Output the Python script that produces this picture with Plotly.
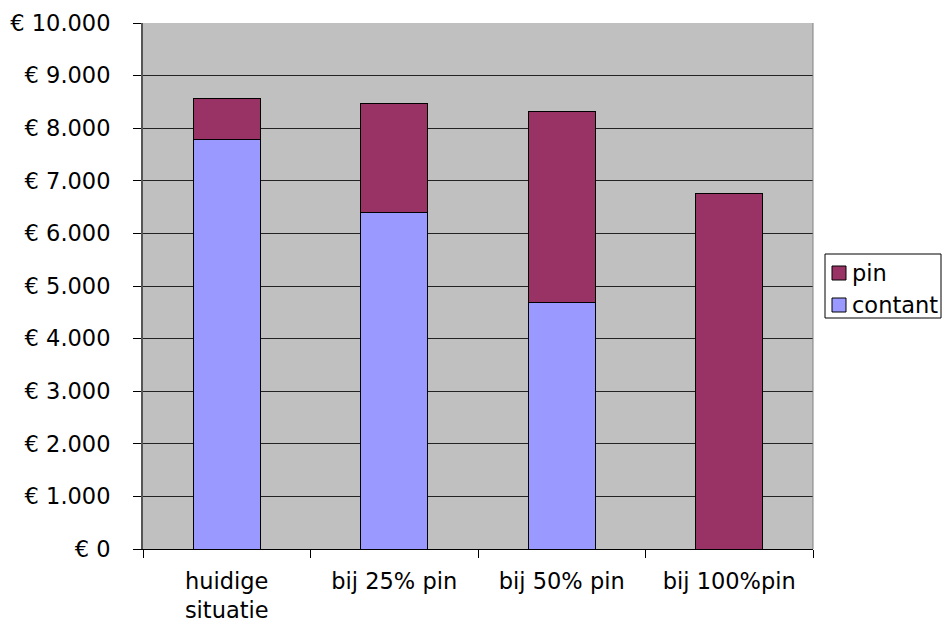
import plotly.graph_objects as go

categories = ["huidige<br>situatie", "bij 25% pin", "bij 50% pin", "bij 100%pin"]
contant = [7780, 6400, 4690, 0]
pin = [790, 2070, 3620, 6750]
tick_values = [0, 1000, 2000, 3000, 4000, 5000, 6000, 7000, 8000, 9000, 10000]
tick_labels = ["€ 0", "€ 1.000", "€ 2.000", "€ 3.000", "€ 4.000", "€ 5.000",
               "€ 6.000", "€ 7.000", "€ 8.000", "€ 9.000", "€ 10.000"]

W, H = 942, 623
M_L, M_R, M_T, M_B = 143, 129, 23, 74
font = dict(family="DejaVu Sans, Verdana, sans-serif", size=22.5, color="black")

series = [("contant", contant, "#9999FF"), ("pin", pin, "#993366")]

fig = go.Figure()
for name, values, color in series:
    fig.add_trace(go.Bar(
        x=categories, y=values, name=name,
        marker=dict(color=color, line=dict(color="black", width=1)),
    ))


def px_x(px):
    return (px - M_L) / (W - M_L - M_R)


def px_y(py):
    return (H - M_B - py) / (H - M_T - M_B)


# legend box drawn beside the plot, pin on top and contant below
shapes = [dict(type="rect", xref="paper", yref="paper",
               x0=px_x(825), x1=px_x(941), y0=px_y(318), y1=px_y(254),
               line=dict(color="black", width=1), fillcolor="white", layer="above")]
annotations = []
for i, (name, _, color) in enumerate(reversed(series)):
    cy = 273 + i * 32
    shapes.append(dict(type="rect", xref="paper", yref="paper",
                       x0=px_x(832), x1=px_x(846), y0=px_y(cy + 7), y1=px_y(cy - 7),
                       line=dict(color="black", width=1), fillcolor=color, layer="above"))
    annotations.append(dict(xref="paper", yref="paper", x=px_x(850), y=px_y(cy),
                            xanchor="left", yanchor="middle", text=name,
                            showarrow=False, font=font))

# right-hand border of the plotting area
shapes.append(dict(type="line", xref="paper", yref="paper", x0=1, x1=1, y0=0, y1=1,
                   line=dict(color="#808080", width=1)))

fig.update_layout(
    barmode="stack",
    bargap=0.6,
    width=W, height=H,
    margin=dict(l=M_L, r=M_R, t=M_T, b=M_B, autoexpand=False),
    paper_bgcolor="white",
    plot_bgcolor="#C0C0C0",
    font=font,
    showlegend=False,
    shapes=shapes,
    annotations=annotations,
    xaxis=dict(
        type="category",
        tickson="boundaries",
        ticks="outside", ticklen=8, tickcolor="black",
        showline=True, linecolor="black", linewidth=1,
        showgrid=False, mirror=False,
        tickfont=font, ticklabelstandoff=12,
    ),
    yaxis=dict(
        range=[0, 10000],
        tickvals=tick_values, ticktext=tick_labels,
        ticks="outside", ticklen=8, tickcolor="black",
        showline=True, linecolor="#555555", linewidth=2,
        showgrid=True, gridcolor="#222222", gridwidth=1.3,
        zeroline=False,
        tickfont=font, ticklabelstandoff=18,
    ),
)

fig.write_html("out.html")
